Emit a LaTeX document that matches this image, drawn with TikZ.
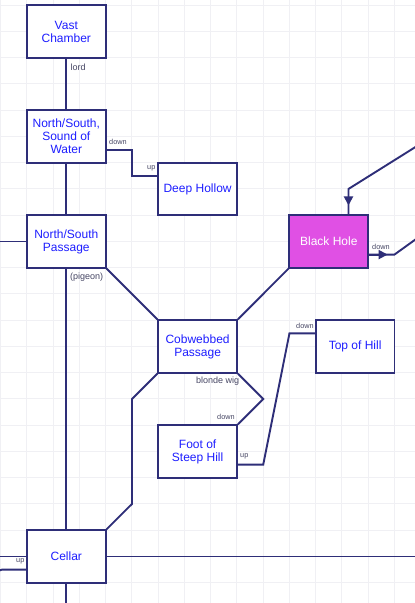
\documentclass[tikz,border=0pt]{standalone}
\usepackage{fontspec}
\setmainfont{Liberation Sans}
\usetikzlibrary{arrows.meta,backgrounds}
\definecolor{edgec}{RGB}{46,46,120}
\definecolor{txtc}{RGB}{30,30,255}
\definecolor{lblc}{RGB}{70,70,100}
\definecolor{gridc}{RGB}{240,240,244}
\definecolor{bhfill}{RGB}{224,80,228}
\begin{document}
\begin{tikzpicture}[x=1pt,y=-1pt,
  room/.style={draw=edgec, line width=1.9pt, fill=white, minimum width=78.75pt,
    minimum height=52.5pt, inner sep=0pt, align=center, text=txtc,
    font=\fontsize{12}{13}\selectfont},
  conn/.style={draw=edgec, line width=1.9pt},
  lab/.style={text=lblc, font=\fontsize{9}{10}\selectfont, inner sep=0pt, anchor=west},
  slab/.style={text=lblc, font=\fontsize{7.3}{8}\selectfont, inner sep=0pt, anchor=west},
  tri/.style={-{Triangle[length=9pt,width=9pt]}}
]
\useasboundingbox (0,0) rectangle (415,603);
\begin{pgfonlayer}{background}
  \fill[white] (0,0) rectangle (415,603);
  \foreach \i in {0,...,15} \draw[gridc, line width=1pt] (0.7+26.25*\i,0) -- (0.7+26.25*\i,603);
  \foreach \j in {0,...,22} \draw[gridc, line width=1pt] (0,5.2+26.25*\j) -- (415,5.2+26.25*\j);
\end{pgfonlayer}

% rooms
\node[room] (vast) at (66.3,31.45) {Vast\\Chamber};
\node[room] (nss) at (66.3,136.45) {North/South,\\Sound of\\Water};
\node[room] (deep) at (197.6,188.95) {Deep Hollow};
\node[room, fill=bhfill, text=white] (bh) at (328.8,241.45) {Black Hole};
\node[room] (nsp) at (66.3,241.45) {North/South\\Passage};
\node[room] (cob) at (197.6,346.45) {Cobwebbed\\Passage};
\node[room] (top) at (355.1,346.45) {Top of Hill};
\node[room] (foot) at (197.6,451.45) {Foot of\\Steep Hill};
\node[room] (cellar) at (66.3,556.45) {Cellar};

% free ends
\coordinate (offL1) at (-5,241.45);
\coordinate (offTR) at (430,137.9);
\coordinate (offR1) at (430,229);
\coordinate (offR2) at (430,556.45);
\coordinate (offL2) at (-5,556.45);
\coordinate (offL3) at (-5,572);
\coordinate (offB) at (66.3,615);
\coordinate (bht) at (348.5,188.95);

\begin{pgfonlayer}{background}
  \begin{scope}
  \clip (0,0) rectangle (415,603);
  \draw[conn] (vast) -- (nss);
  \draw[conn] ([yshift=-13.125pt]nss.east) -- (131.95,149.575) -- (131.95,175.825) -- ([yshift=13.125pt]deep.west);
  \draw[conn] (nss) -- (nsp);
  \draw[conn] (nsp.west) -- (offL1);
  \draw[conn] (nsp) -- (cellar);
  \draw[conn] (nsp.south east) -- (cob.north west);
  \draw[conn] (cob.north east) -- (bh.south west);
  \draw[conn] (offTR) -- (bht) -- ([xshift=19.7pt]bh.north);
  \draw[conn, tri] (bht) -- ++(0,16.5);
  \draw[conn] ([yshift=-13.125pt]bh.east) -- (394.45,254.575) -- (offR1);
  \draw[conn, tri] ([yshift=-13.125pt]bh.east) -- ++(18.5,0);
  \draw[conn] (cob.south east) -- (263.25,398.95) -- (foot.north east);
  \draw[conn] (cob.south west) -- (131.95,398.95) -- (131.95,503.95) -- (cellar.north east);
  \draw[conn] ([yshift=-13.125pt]foot.east) -- (263.25,464.575) -- (289.45,333.325) -- ([yshift=13.125pt]top.west);
  \draw[conn] (cellar.east) -- (offR2);
  \draw[conn] (cellar.west) -- (offL2);
  \draw[conn] ([yshift=-13.125pt]cellar.west) -- (2,569.575) -- (offL3);
  \draw[conn] (cellar.south) -- (offB);
  \end{scope}
\end{pgfonlayer}

% labels
\node[lab] (llord) at (70.5,67) {lord};
\node[slab] (ld1) at (109,141.6) {down};
\node[slab] (lu1) at (147,168.4) {up};
\node[lab] (lpig) at (70,277.4) {(pigeon)};
\node[slab] (ld2) at (372,246.8) {down};
\node[lab] (lwig) at (196,381) {blonde wig};
\node[slab] (ld3) at (217,417.3) {down};
\node[slab] (lu2) at (240,456.2) {up};
\node[slab] (ld4) at (296,325.6) {down};
\node[slab] (lu3) at (16,561.6) {up};
\end{tikzpicture}
\end{document}
